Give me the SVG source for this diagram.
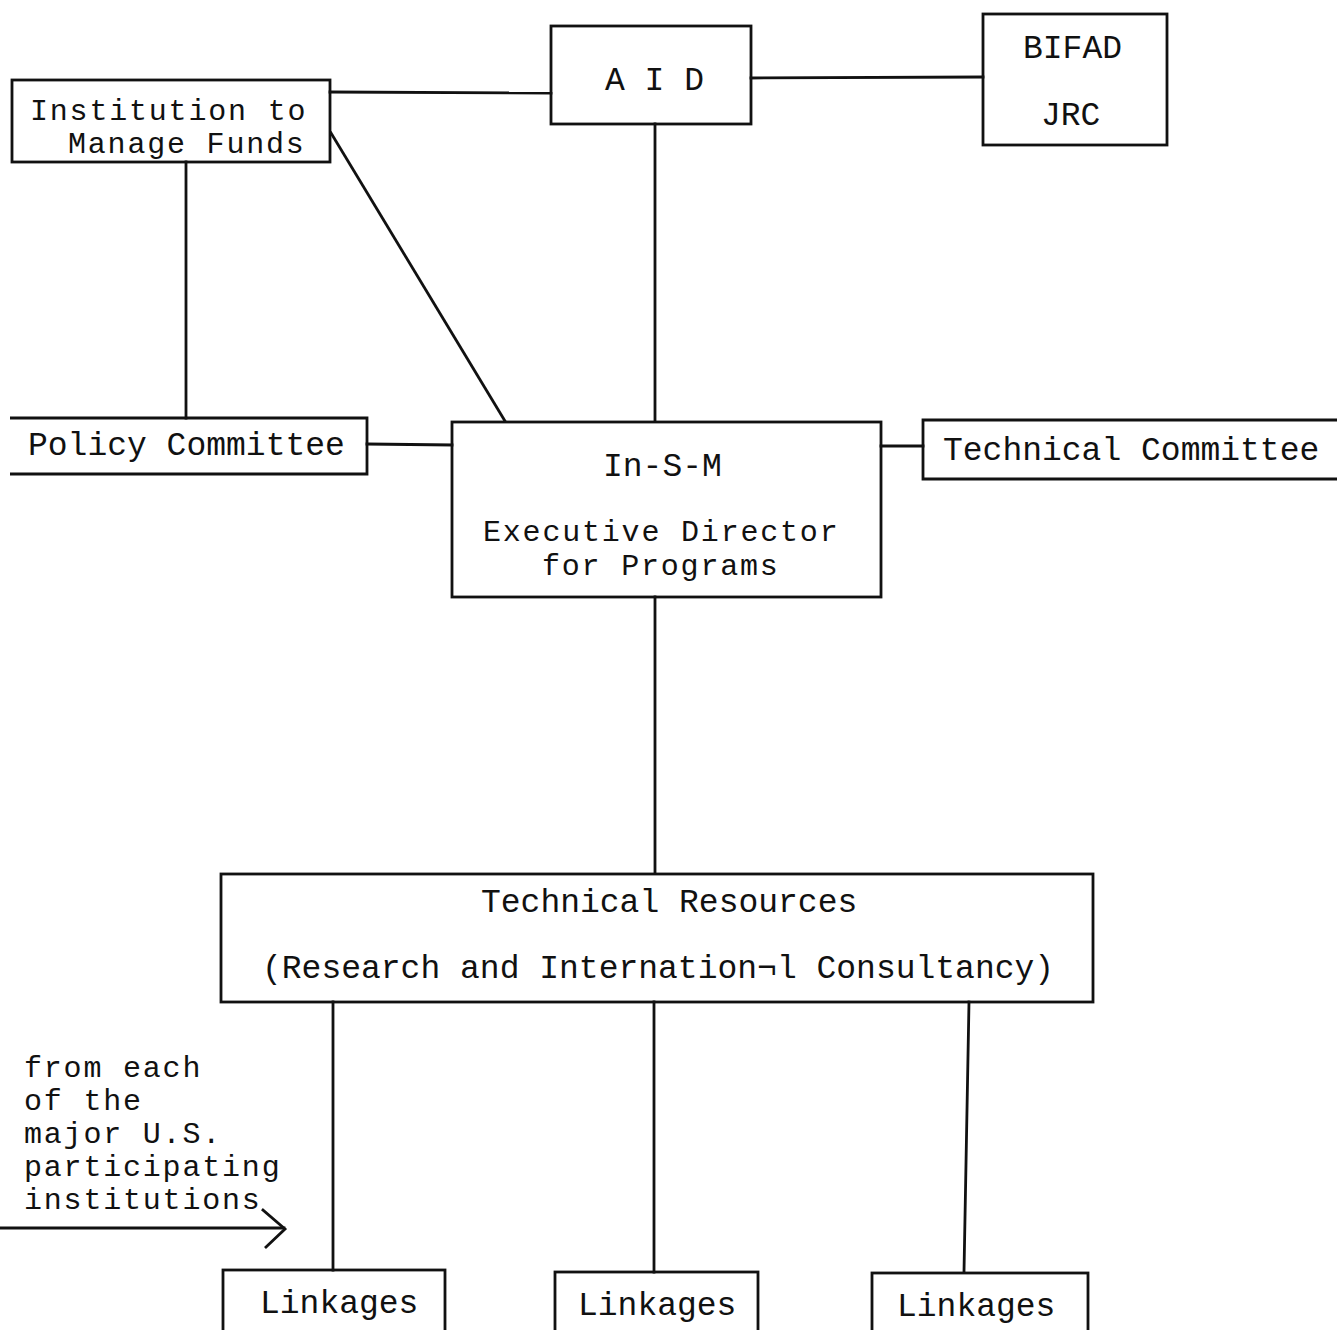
<svg xmlns="http://www.w3.org/2000/svg" width="1337" height="1330" viewBox="0 0 1337 1330">
<style>
.box{fill:none;stroke:#111;stroke-width:2.8}
.ln{fill:none;stroke:#111;stroke-width:2.8;stroke-linecap:square}
text{font-family:"Liberation Mono","Courier New",monospace;font-size:33px;fill:#111}
.tight{font-size:30px;letter-spacing:1.8px}
</style>
<rect width="1337" height="1330" fill="#fff"/>
<g id="connectors">
<line class="ln" x1="330" y1="92" x2="551" y2="93"/>
<line class="ln" x1="751" y1="78" x2="983" y2="77"/>
<line class="ln" x1="655" y1="124" x2="655" y2="421"/>
<line class="ln" x1="186" y1="162" x2="186" y2="418"/>
<line class="ln" x1="331" y1="133" x2="505" y2="421"/>
<line class="ln" x1="367" y1="444" x2="452" y2="445"/>
<line class="ln" x1="881" y1="446" x2="923" y2="446"/>
<line class="ln" x1="655" y1="597" x2="655" y2="873"/>
<line class="ln" x1="333" y1="1002" x2="333" y2="1270"/>
<line class="ln" x1="654" y1="1002" x2="654" y2="1272"/>
<line class="ln" x1="969" y1="1002" x2="964" y2="1272"/>
<line class="ln" x1="0" y1="1228" x2="284" y2="1228"/>
<polyline class="ln" points="263,1210 285,1229 266,1247" stroke-linejoin="miter"/>
</g>
<g id="institution">
<rect class="box" x="12" y="80" width="318" height="82"/>
<text class="tight" x="30" y="120">Institution to</text>
<text class="tight" x="68" y="153">Manage Funds</text>
</g>
<g id="aid">
<rect class="box" x="551" y="26" width="200" height="98"/>
<text x="605" y="90">A I D</text>
</g>
<g id="bifad">
<rect class="box" x="983" y="14" width="184" height="131"/>
<text x="1023" y="58">BIFAD</text>
<text x="1041" y="125">JRC</text>
</g>
<g id="policy">
<polyline class="box" points="10,418 367,418 367,474 10,474"/>
<text x="28" y="455">Policy Committee</text>
</g>
<g id="insm">
<rect class="box" x="452" y="422" width="429" height="175"/>
<text x="603" y="476">In-S-M</text>
<text class="tight" x="483" y="541">Executive Director</text>
<text class="tight" x="542" y="575">for Programs</text>
</g>
<g id="techcommittee">
<polyline class="box" points="1340,420 923,420 923,479 1340,479"/>
<text x="943" y="460">Technical Committee</text>
</g>
<g id="techresources">
<rect class="box" x="221" y="874" width="872" height="128"/>
<text x="481" y="912">Technical Resources</text>
<text x="262" y="978">(Research and Internation¬l Consultancy)</text>
</g>
<g id="note">
<text class="tight" x="24" y="1077">from each</text>
<text class="tight" x="24" y="1110">of the</text>
<text class="tight" x="24" y="1143">major U.S.</text>
<text class="tight" x="24" y="1176">participating</text>
<text class="tight" x="24" y="1209">institutions</text>
</g>
<g id="linkages1">
<rect class="box" x="223" y="1270" width="222" height="70"/>
<text x="260" y="1313">Linkages</text>
</g>
<g id="linkages2">
<rect class="box" x="555" y="1272" width="203" height="70"/>
<text x="578" y="1315">Linkages</text>
</g>
<g id="linkages3">
<rect class="box" x="872" y="1273" width="216" height="70"/>
<text x="897" y="1316">Linkages</text>
</g>
</svg>
